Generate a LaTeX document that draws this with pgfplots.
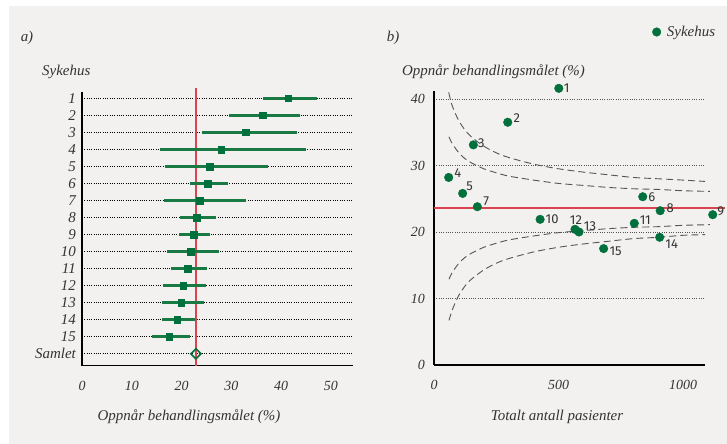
\documentclass[border=0pt]{standalone}
\usepackage{pgfplots}
\pgfplotsset{compat=1.18}
\usepackage{pgfplotstable}
\usepackage{fontspec}
\setmainfont{Liberation Serif}
\newfontfamily\labfont{Fira Sans}
\definecolor{bg}{HTML}{F2F1EF}
\definecolor{mgreen}{HTML}{00703C}
\definecolor{lgreen}{HTML}{1A7A43}
\definecolor{mred}{HTML}{D9444E}
\definecolor{dgrey}{HTML}{555555}
\definecolor{tgrey}{HTML}{333333}

\pgfplotstableread{
row est em ep
-1 41.4 5.1 5.9
-2 36.3 6.8 7.5
-3 32.9 8.8 10.3
-4 28.0 12.3 17.1
-5 25.7 9.0 11.7
-6 25.2 3.5 4.2
-7 23.7 7.2 9.2
-8 23.1 3.4 3.9
-9 22.4 3.0 3.4
-10 21.9 4.8 5.6
-11 21.3 3.4 3.9
-12 20.3 4.0 4.7
-13 19.9 3.8 4.6
-14 19.1 3.0 3.7
-15 17.5 3.4 4.2
}\forestdata

\pgfplotstableread{
n p lab dx dy
501 41.6 1 8 0
296 36.5 2 9 4
158 33.1 3 8 2
59 28.2 4 9 4
115 25.8 5 7 7
838 25.3 6 9 0
174 23.8 7 9 5
908 23.2 8 10 3
1119 22.6 9 8 3
426 21.9 10 12 0
804 21.3 11 11 3
566 20.4 12 1 9
582 20.0 13 11 6
906 19.2 14 12 -7
681 17.5 15 12 -3
}\hospdata

\begin{document}
\begin{tikzpicture}[x=1bp,y=1bp]
\fill[white] (0,0) rectangle (727,444);
\fill[bg] (9,0) rectangle (727,438);

% Panel a
\begin{axis}[
  at={(82bp,78.3bp)}, anchor=south west,
  scale only axis, width=270.7bp, height=274bp,
  xmin=0, xmax=54.4, ymin=-16.7, ymax=-0.61,
  axis x line*=bottom, axis y line*=left,
  axis line style={black, line width=1.1bp},
  xtick={0,10,20,30,40,50},
  ytick={-1,-2,-3,-4,-5,-6,-7,-8,-9,-10,-11,-12,-13,-14,-15,-16},
  yticklabels={1,2,3,4,5,6,7,8,9,10,11,12,13,14,15,Samlet},
  major tick length=0pt,
  ymajorgrids,
  grid style={black, line width=0.6bp, dash pattern=on 0.7bp off 1.6bp},
  /pgf/number format/assume math mode=true,
  ticklabel style={font=\itshape\fontsize{14}{16}\selectfont, text=tgrey},
  yticklabel style={anchor=east, inner sep=0pt, xshift=-6bp, font=\itshape\fontsize{15}{17}\selectfont},
  xticklabel style={anchor=north, inner sep=0pt, yshift=-15bp},
  clip=false,
]
\addplot[mred, line width=1.5bp] coordinates {(22.9,-0.41) (22.9,-16.7)};
\addplot[only marks, mark=square*, mark size=3.3bp, mgreen,
  error bars/.cd, x dir=both, x explicit, error mark=none,
  error bar style={lgreen, line width=2.8bp}]
  table[x=est, y=row, x error minus=em, x error plus=ep]{\forestdata};
\addplot[only marks, mark=square, mark size=3.6bp, mark options={rotate=45, line width=1.6bp}, mgreen]
  coordinates {(22.9,-16)};
\end{axis}

% Panel b
\begin{axis}[
  at={(434bp,79bp)}, anchor=south west,
  scale only axis, width=271bp, height=274bp,
  xmin=0, xmax=1088, ymin=0, ymax=41.2,
  axis x line*=bottom, axis y line*=left,
  axis line style={black, line width=1.1bp},
  xtick={0,500,1000}, ytick={0,10,20,30,40},
  major tick length=0pt,
  ymajorgrids,
  grid style={dgrey, line width=0.6bp, dash pattern=on 0.7bp off 1.6bp},
  /pgf/number format/assume math mode=true,
  /pgf/number format/1000 sep={},
  ticklabel style={font=\itshape\fontsize{14}{16}\selectfont, text=tgrey},
  yticklabel style={anchor=east, inner sep=0pt, xshift=-9bp},
  xticklabel style={anchor=north, inner sep=0pt, yshift=-15bp},
  clip=false,
  legend style={at={(rel axis cs:0.805,1.2153)}, anchor=west, draw=none, fill=none,
    font=\itshape\fontsize{15}{17}\selectfont, text=tgrey, inner sep=0pt,
    /tikz/every odd column/.append style={column sep=4bp}},
  legend image code/.code={\draw[mark=*, mark size=4.3bp, mgreen] plot coordinates {(0.3cm,0cm)};},
]
\addplot[dgrey, line width=0.9bp, dash pattern=on 7bp off 4bp, smooth, forget plot] coordinates {
(60,34.3)(70,33.5)(80,32.9)(100,31.9)(125,31.0)(150,30.4)(200,29.5)(250,28.9)(300,28.4)(400,27.8)(500,27.3)(600,27.0)(700,26.7)(800,26.5)(900,26.4)(1000,26.2)(1108,26.1)};
\addplot[dgrey, line width=0.9bp, dash pattern=on 7bp off 4bp, smooth, forget plot] coordinates {
(60,12.9)(70,13.7)(80,14.3)(100,15.3)(125,16.2)(150,16.8)(200,17.7)(250,18.3)(300,18.8)(400,19.4)(500,19.9)(600,20.2)(700,20.5)(800,20.7)(900,20.8)(1000,21.0)(1108,21.1)};
\addplot[dgrey, line width=0.9bp, dash pattern=on 7bp off 4bp, smooth, forget plot] coordinates {
(59,41.0)(70,39.3)(80,38.3)(100,36.7)(125,35.3)(150,34.3)(200,32.9)(250,31.9)(300,31.2)(400,30.2)(500,29.5)(600,29.0)(700,28.6)(800,28.2)(900,28.0)(1000,27.8)(1088,27.6)};
\addplot[dgrey, line width=0.9bp, dash pattern=on 7bp off 4bp, smooth, forget plot] coordinates {
(60,6.7)(70,7.9)(80,8.9)(100,10.5)(125,11.9)(150,12.9)(200,14.3)(250,15.3)(300,16.0)(400,17.0)(500,17.7)(600,18.2)(700,18.6)(800,19.0)(900,19.2)(1000,19.5)(1088,19.6)};
\addplot[mred, line width=1.3bp, forget plot] coordinates {(0,23.6) (1169,23.6)};
\addplot[only marks, mark=*, mark size=4.3bp, mgreen,
  nodes near coords, point meta=explicit symbolic,
  visualization depends on={\thisrow{dx} \as \ddx},
  visualization depends on={\thisrow{dy} \as \ddy},
  every node near coord/.append style={anchor=center, xshift=\ddx bp, yshift=\ddy bp,
    font=\labfont\fontsize{13}{15}\selectfont, text=tgrey, inner sep=0pt}]
  table[x=n, y=p, meta=lab]{\hospdata};
\addlegendentry{Sykehus}
\end{axis}

\node[anchor=center, font=\itshape\fontsize{15}{17}\selectfont, text=tgrey] at (27,406) {a)};
\node[anchor=center, font=\itshape\fontsize{15}{17}\selectfont, text=tgrey] at (393,406) {b)};
\node[anchor=base west, font=\itshape\fontsize{15}{17}\selectfont, text=tgrey, inner sep=0pt] at (42,368) {Sykehus};
\node[anchor=base west, font=\itshape\fontsize{15}{17}\selectfont, text=tgrey, inner sep=0pt] at (402,368) {Oppnår behandlingsmålet (\%)};
\node[anchor=base, font=\itshape\fontsize{15}{17}\selectfont, text=tgrey, inner sep=0pt] at (189,23.3) {Oppnår behandlingsmålet (\%)};
\node[anchor=base, font=\itshape\fontsize{15}{17}\selectfont, text=tgrey, inner sep=0pt] at (557,23.3) {Totalt antall pasienter};
\pgfresetboundingbox
\path[use as bounding box] (0,0) rectangle (727,444);
\end{tikzpicture}
\end{document}
